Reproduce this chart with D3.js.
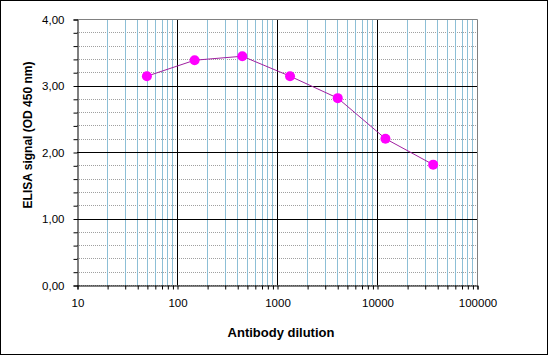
<!DOCTYPE html>
<html>
<head>
<meta charset="utf-8">
<script src="https://cdn.jsdelivr.net/npm/d3@7"></script>
<style>
  body { margin: 0; background: #fff; }
  svg text { font-family: "Liberation Sans", Arial, sans-serif; }
</style>
</head>
<body>
<script>
"use strict";

const dilutions = [50, 150, 450, 1350, 4050, 12150, 36450];
const signals = [3.14, 3.38, 3.44, 3.14, 2.81, 2.20, 1.81];
const yTicks = [0, 1, 2, 3, 4];
const xTicks = [10, 100, 1000, 10000, 100000];

(function() {

const width = 550;
const height = 356;
const mLeft = 77, mRight = 477, mTop = 19, mBottom = 285;

let svg = d3.select('body').append('svg')
    .attr('width', width)
    .attr('height', height);

// outer frame
svg.append('rect')
    .attr('x', 0.5).attr('y', 0.5)
    .attr('width', width - 3).attr('height', height - 2)
    .attr('fill', '#fff')
    .attr('stroke', '#000');

let x = d3.scaleLog().domain([10, 100000]).range([mLeft, mRight]);
let y = d3.scaleLinear().domain([0, 4]).range([mBottom, mTop]);

// minor values
let xMinor = [];
for (let e = 1; e < 5; e++) {
    for (let m = 2; m <= 9; m++) xMinor.push(m * Math.pow(10, e));
}
let yMinor = d3.range(0, 4.001, 0.2);

let grid = svg.append('g');

// horizontal minor dotted lines
grid.selectAll('.hmin')
    .data(yMinor)
    .enter().append('line')
    .attr('x1', mLeft).attr('x2', mRight)
    .attr('y1', d => Math.round(y(d)) + 0.5)
    .attr('y2', d => Math.round(y(d)) + 0.5)
    .attr('stroke', '#a0a0a0')
    .attr('stroke-dasharray', '1,1');

// vertical minor light blue lines
grid.selectAll('.vmin')
    .data(xMinor)
    .enter().append('line')
    .attr('x1', d => Math.round(x(d)) + 0.5)
    .attr('x2', d => Math.round(x(d)) + 0.5)
    .attr('y1', mTop).attr('y2', mBottom)
    .attr('stroke', '#8dbfd6');

// major lines
grid.selectAll('.hmaj')
    .data(yTicks.slice(1, 4))
    .enter().append('line')
    .attr('x1', mLeft).attr('x2', mRight)
    .attr('y1', d => Math.round(y(d)) + 0.5)
    .attr('y2', d => Math.round(y(d)) + 0.5)
    .attr('stroke', '#000');

grid.selectAll('.vmaj')
    .data(xTicks.slice(1, 4))
    .enter().append('line')
    .attr('x1', d => Math.round(x(d)) + 0.5)
    .attr('x2', d => Math.round(x(d)) + 0.5)
    .attr('y1', mTop).attr('y2', mBottom)
    .attr('stroke', '#000');

// plot border (top/right grey)
svg.append('path')
    .attr('d', `M${mLeft + 0.5},${mTop + 0.5}H${mRight + 0.5}V${mBottom + 0.5}`)
    .attr('fill', 'none')
    .attr('stroke', '#808080');

// y axis
let yAxis = svg.append('g')
    .attr('transform', `translate(${mLeft + 0.5},0.5)`)
    .call(d3.axisLeft(y).tickValues(yMinor).tickSize(4)
        .tickFormat(d => {
            let r = Math.round(d * 100) / 100;
            return (Math.abs(r - Math.round(r)) < 1e-9) ? d3.format('.2f')(r).replace('.', ',') : '';
        }));
yAxis.select('.domain').attr('stroke', '#000');
yAxis.selectAll('.tick line').attr('stroke', '#000');
yAxis.selectAll('.tick text').attr('font-size', 11.5).attr('x', -13).attr('fill', '#000');

// x axis
let xAxis = svg.append('g')
    .attr('transform', `translate(0.5,${mBottom + 0.5})`)
    .call(d3.axisBottom(x).tickValues(xTicks.concat(xMinor)).tickSize(4)
        .tickFormat(d => xTicks.includes(d) ? String(d) : ''));
xAxis.select('.domain').attr('stroke', '#000');
xAxis.selectAll('.tick line').attr('stroke', '#000');
xAxis.selectAll('.tick text').attr('font-size', 11.5).attr('y', 13).attr('fill', '#000');

// axis titles
svg.append('text')
    .attr('x', 281)
    .attr('y', 337)
    .attr('text-anchor', 'middle')
    .attr('font-size', 13)
    .attr('font-weight', 'bold')
    .text('Antibody dilution');

svg.append('text')
    .attr('transform', 'translate(32,135) rotate(-90)')
    .attr('text-anchor', 'middle')
    .attr('font-size', 12)
    .attr('font-weight', 'bold')
    .text('ELISA signal (OD 450 nm)');

// series
let pts = dilutions.map((d, i) => [d, signals[i]]);

svg.append('path')
    .datum(pts)
    .attr('d', d3.line().x(d => x(d[0])).y(d => y(d[1])))
    .attr('fill', 'none')
    .attr('stroke', '#a020a0')
    .attr('stroke-width', 1);

svg.selectAll('.dot')
    .data(pts)
    .enter().append('circle')
    .attr('cx', d => x(d[0]))
    .attr('cy', d => y(d[1]))
    .attr('r', 5)
    .attr('fill', '#ff00ff');

})();
</script>
</body>
</html>
